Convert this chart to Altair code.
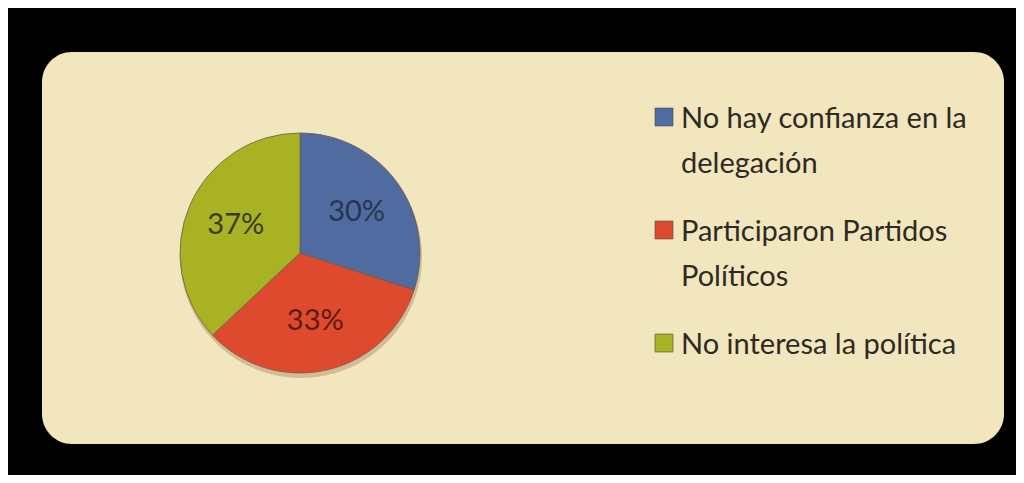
import altair as alt
import pandas as pd

categories = ["No hay confianza en la|delegación", "Participaron Partidos|Políticos", "No interesa  la política"]
values = [30, 33, 37]
labels = ["30%", "33%", "37%"]
colors = ["#4F6B9F", "#DD4A2E", "#A9B222"]
label_colors = ["#263550", "#5E1A0E", "#3A3A12"]

df = pd.DataFrame({"cat": categories, "val": values, "lab": labels,
                   "order": [0, 1, 2], "lc": label_colors})

color_scale = alt.Scale(domain=categories, range=colors)

base = alt.Chart(df).encode(
    theta=alt.Theta("val:Q", stack=True),
    order=alt.Order("order:Q"),
)

shadow = base.mark_arc(radius=121, color="#9A6A48", opacity=0.35).encode(
    x=alt.value(259), y=alt.value(205),
)

pie = base.mark_arc(radius=120, stroke="#6E5A4A", strokeWidth=0.8).encode(
    x=alt.value(258), y=alt.value(201),
    color=alt.Color("cat:N", scale=color_scale, legend=None),
)

text = base.mark_text(radius=70, font="Lato", fontSize=29).encode(
    x=alt.value(258), y=alt.value(201),
    text="lab:N",
    color=alt.Color("lc:N", scale=None),
)

leg_y = alt.Y("cat:N", sort=categories, axis=None,
              scale=alt.Scale(type="point", domain=categories,
                              range=[65, 291], padding=0))

leg_sq = alt.Chart(df).mark_square(size=324, opacity=1, stroke="#4a4a4a",
                                   strokeWidth=0.6).encode(
    x=alt.value(622),
    y=leg_y,
    color=alt.Color("cat:N", scale=color_scale, legend=None),
)

leg_txt = alt.Chart(df).transform_calculate(
    lines="split(datum.cat, '|')"
).mark_text(font="Lato", fontSize=29, align="left", baseline="alphabetic",
            dy=11, lineHeight=45, color="#2E2A22").encode(
    x=alt.value(639),
    y=leg_y,
    text="lines:N",
)

chart = alt.layer(shadow, pie, text, leg_sq, leg_txt).properties(
    width=962,
    height=392,
    autosize=alt.AutoSizeParams(type="none"),
    padding={"left": 34, "top": 44, "right": 12, "bottom": 31},
    background="#000000",
).configure_view(
    fill="#F2E6BF",
    stroke=None,
    cornerRadius=30,
)

chart.save("out.html", embed_options={"renderer": "svg", "actions": False})
